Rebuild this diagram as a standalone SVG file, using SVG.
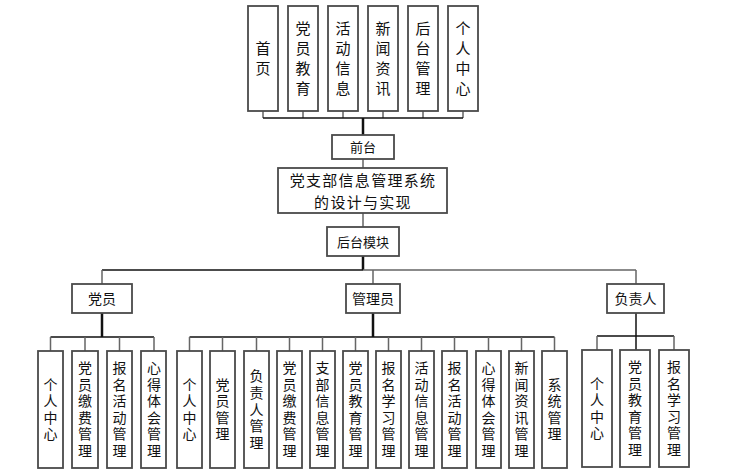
<svg xmlns="http://www.w3.org/2000/svg" width="745" height="475" viewBox="0 0 745 475">
<style>
.box{fill:#fff;stroke:#4a4a4a;stroke-width:1.8}
text{font-family:"Noto Sans CJK SC","Liberation Sans",sans-serif;fill:#111;text-anchor:middle}
.t15{font-size:15px}
.t14{font-size:14px}
.t13{font-size:13px}
.t16{font-size:15px;letter-spacing:1.3px}
.thin{stroke:#666;stroke-width:1.5;fill:none}
.blk{stroke:#111;stroke-width:1.5;fill:none}
.thick{stroke:#111;stroke-width:2.5;fill:none}
</style>
<rect width="745" height="475" fill="#fff"/>
<g id="connectors">
<path class="thin" d="M263 111V118M303 111V118M343 111V118M383 111V118M423 111V118M463 111V118"/>
<path class="blk" d="M263 118H463"/>
<path class="thick" d="M363 118V135"/>
<path class="thin" d="M363 159V168M363 213V227"/>
<path class="thick" d="M363 256V270"/>
<path class="blk" d="M102 270H363"/>
<path class="thin" d="M363 270H636M102 270V284M373 270V284M636 270V284"/>
<path class="thick" d="M102 313V337M373 313V337"/>
<path class="blk" d="M636 313V350"/>
<path class="blk" d="M50.5 337H154M189.5 337H554.5M597 336H674"/>
<path class="thin" d="M50.5 337V351M85 337V351M119.5 337V351M154 337V351"/>
<path class="thin" d="M189.5 337V351M222.5 337V351M256.5 337V351M289.5 337V351M322.5 337V351M355.5 337V351M388.5 337V351M421.5 337V351M454.5 337V351M488.5 337V351M521.5 337V351M554.5 337V351"/>
<path class="thin" d="M597 336V350M674 336V350"/>
</g>
<g id="n-shouye"><rect class="box" x="248" y="6" width="30" height="105"/><text class="t15" x="263 263" y="54 74">首页</text></g>
<g id="n-dyjy"><rect class="box" x="288" y="6" width="30" height="105"/><text class="t15" x="303 303 303 303" y="34 54 74 94">党员教育</text></g>
<g id="n-hdxx"><rect class="box" x="328" y="6" width="30" height="105"/><text class="t15" x="343 343 343 343" y="34 54 74 94">活动信息</text></g>
<g id="n-xwzx"><rect class="box" x="368" y="6" width="30" height="105"/><text class="t15" x="383 383 383 383" y="34 54 74 94">新闻资讯</text></g>
<g id="n-htgl"><rect class="box" x="408" y="6" width="30" height="105"/><text class="t15" x="423 423 423 423" y="34 54 74 94">后台管理</text></g>
<g id="n-grzx"><rect class="box" x="448" y="6" width="30" height="105"/><text class="t15" x="463 463 463 463" y="34 54 74 94">个人中心</text></g>
<g id="n-qiantai"><rect class="box" x="332" y="135" width="62" height="24"/><text class="t13" x="363" y="152">前台</text></g>
<g id="n-main"><rect class="box" x="278" y="168" width="169" height="45"/><text class="t16"><tspan x="363" y="186">党支部信息管理系统</tspan><tspan x="363" y="208">的设计与实现</tspan></text></g>
<g id="n-houtai"><rect class="box" x="327" y="227" width="72" height="29"/><text class="t13" x="363" y="246.5">后台模块</text></g>
<g id="n-dangyuan"><rect class="box" x="72" y="284" width="60" height="29"/><text class="t14" x="102" y="303.5">党员</text></g>
<g id="n-guanliyuan"><rect class="box" x="346" y="284" width="54" height="29"/><text class="t14" x="373" y="303.5">管理员</text></g>
<g id="n-fuzeren"><rect class="box" x="607" y="284" width="57" height="29"/><text class="t14" x="635.5" y="303.5">负责人</text></g>
<g id="d1"><rect class="box" x="38" y="351" width="25" height="117"/><text class="t14" x="50.5 50.5 50.5 50.5" y="389.6 406.2 422.8 439.4">个人中心</text></g>
<g id="d2"><rect class="box" x="72" y="351" width="26" height="117"/><text class="t14" x="85 85 85 85 85 85" y="373 389.6 406.2 422.8 439.4 456">党员缴费管理</text></g>
<g id="d3"><rect class="box" x="107" y="351" width="25" height="117"/><text class="t14" x="119.5 119.5 119.5 119.5 119.5 119.5" y="373 389.6 406.2 422.8 439.4 456">报名活动管理</text></g>
<g id="d4"><rect class="box" x="141" y="351" width="25" height="117"/><text class="t14" x="154 154 154 154 154 154" y="373 389.6 406.2 422.8 439.4 456">心得体会管理</text></g>
<g id="g1"><rect class="box" x="177" y="351" width="25" height="117"/><text class="t14" x="189.5 189.5 189.5 189.5" y="389.6 406.2 422.8 439.4">个人中心</text></g>
<g id="g2"><rect class="box" x="210" y="351" width="25" height="117"/><text class="t14" x="222.5 222.5 222.5 222.5" y="389.6 406.2 422.8 439.4">党员管理</text></g>
<g id="g3"><rect class="box" x="244" y="351" width="25" height="117"/><text class="t14" x="256.5 256.5 256.5 256.5 256.5" y="381.3 397.9 414.5 431.1 447.7">负责人管理</text></g>
<g id="g4"><rect class="box" x="277" y="351" width="25" height="117"/><text class="t14" x="289.5 289.5 289.5 289.5 289.5 289.5" y="373 389.6 406.2 422.8 439.4 456">党员缴费管理</text></g>
<g id="g5"><rect class="box" x="310" y="351" width="25" height="117"/><text class="t14" x="322.5 322.5 322.5 322.5 322.5 322.5" y="373 389.6 406.2 422.8 439.4 456">支部信息管理</text></g>
<g id="g6"><rect class="box" x="343" y="351" width="25" height="117"/><text class="t14" x="355.5 355.5 355.5 355.5 355.5 355.5" y="373 389.6 406.2 422.8 439.4 456">党员教育管理</text></g>
<g id="g7"><rect class="box" x="376" y="351" width="25" height="117"/><text class="t14" x="388.5 388.5 388.5 388.5 388.5 388.5" y="373 389.6 406.2 422.8 439.4 456">报名学习管理</text></g>
<g id="g8"><rect class="box" x="409" y="351" width="25" height="117"/><text class="t14" x="421.5 421.5 421.5 421.5 421.5 421.5" y="373 389.6 406.2 422.8 439.4 456">活动信息管理</text></g>
<g id="g9"><rect class="box" x="442" y="351" width="25" height="117"/><text class="t14" x="454.5 454.5 454.5 454.5 454.5 454.5" y="373 389.6 406.2 422.8 439.4 456">报名活动管理</text></g>
<g id="g10"><rect class="box" x="476" y="351" width="25" height="117"/><text class="t14" x="488.5 488.5 488.5 488.5 488.5 488.5" y="373 389.6 406.2 422.8 439.4 456">心得体会管理</text></g>
<g id="g11"><rect class="box" x="509" y="351" width="25" height="117"/><text class="t14" x="521.5 521.5 521.5 521.5 521.5 521.5" y="373 389.6 406.2 422.8 439.4 456">新闻资讯管理</text></g>
<g id="g12"><rect class="box" x="542" y="351" width="25" height="117"/><text class="t14" x="554.5 554.5 554.5 554.5" y="389.6 406.2 422.8 439.4">系统管理</text></g>
<g id="f1"><rect class="box" x="582" y="350" width="30" height="117"/><text class="t14" x="597 597 597 597" y="388.6 405.2 421.8 438.4">个人中心</text></g>
<g id="f2"><rect class="box" x="620" y="350" width="30" height="117"/><text class="t14" x="635 635 635 635 635 635" y="372 388.6 405.2 421.8 438.4 455">党员教育管理</text></g>
<g id="f3"><rect class="box" x="659" y="350" width="30" height="117"/><text class="t14" x="674 674 674 674 674 674" y="372 388.6 405.2 421.8 438.4 455">报名学习管理</text></g>
</svg>
